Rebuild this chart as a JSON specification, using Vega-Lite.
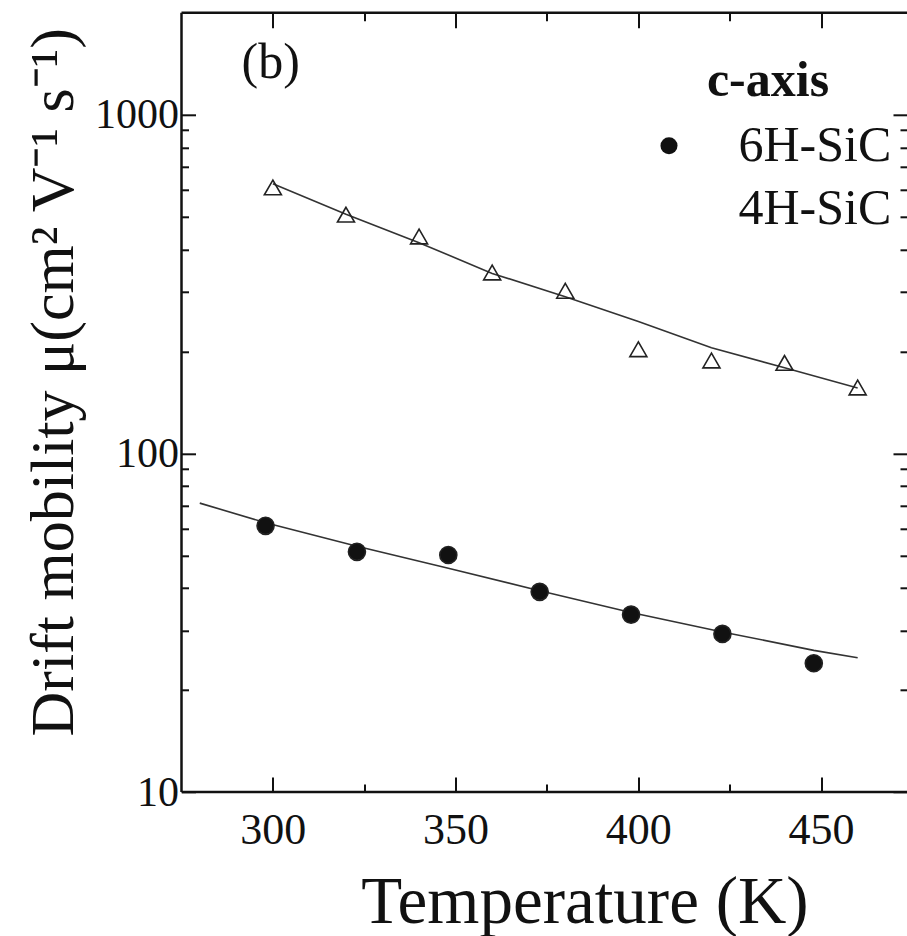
{
  "$schema": "https://vega.github.io/schema/vega-lite/v6.json",
  "width": 725.5,
  "height": 779.2,
  "autosize": {"type": "none"},
  "padding": {"left": 181.5, "top": 12.8, "right": 0, "bottom": 144},
  "background": "white",
  "config": {
    "view": {"stroke": null},
    "font": "Liberation Serif",
    "axis": {"grid": false, "domainColor": "#111", "tickColor": "#111", "labelColor": "#111", "titleColor": "#111", "tickWidth": 2, "labelOverlap": false, "labelFlush": false, "labelBound": false}
  },
  "title": {"text": "(b)", "anchor": "start", "orient": "top", "frame": "group", "offset": -116, "dx": 60, "fontSize": 50, "font": "Liberation Serif", "fontWeight": "normal", "color": "#111", "baseline": "alphabetic"},
  "datasets": {
    "pts": [
      {"T": 298, "mu": 61.1, "phase": "6H-SiC"},
      {"T": 323, "mu": 51.2, "phase": "6H-SiC"},
      {"T": 348, "mu": 50.1, "phase": "6H-SiC"},
      {"T": 373, "mu": 39.0, "phase": "6H-SiC"},
      {"T": 398, "mu": 33.4, "phase": "6H-SiC"},
      {"T": 423, "mu": 29.3, "phase": "6H-SiC"},
      {"T": 448, "mu": 24.0, "phase": "6H-SiC"},
      {"T": 300, "mu": 610, "phase": "4H-SiC"},
      {"T": 320, "mu": 507, "phase": "4H-SiC"},
      {"T": 340, "mu": 437, "phase": "4H-SiC"},
      {"T": 360, "mu": 342, "phase": "4H-SiC"},
      {"T": 380, "mu": 302, "phase": "4H-SiC"},
      {"T": 400, "mu": 203, "phase": "4H-SiC"},
      {"T": 420, "mu": 188, "phase": "4H-SiC"},
      {"T": 440, "mu": 185, "phase": "4H-SiC"},
      {"T": 460, "mu": 156.5, "phase": "4H-SiC"}
    ],
    "fit": [
      {"T": 280, "mu": 71.3, "series": "6H fit"},
      {"T": 298, "mu": 62.4, "series": "6H fit"},
      {"T": 323, "mu": 53.2, "series": "6H fit"},
      {"T": 348, "mu": 45.8, "series": "6H fit"},
      {"T": 373, "mu": 39.3, "series": "6H fit"},
      {"T": 398, "mu": 33.9, "series": "6H fit"},
      {"T": 423, "mu": 29.7, "series": "6H fit"},
      {"T": 448, "mu": 26.2, "series": "6H fit"},
      {"T": 460, "mu": 24.9, "series": "6H fit"},
      {"T": 300, "mu": 625, "series": "4H fit"},
      {"T": 320, "mu": 508, "series": "4H fit"},
      {"T": 340, "mu": 419, "series": "4H fit"},
      {"T": 360, "mu": 340, "series": "4H fit"},
      {"T": 380, "mu": 290, "series": "4H fit"},
      {"T": 400, "mu": 245, "series": "4H fit"},
      {"T": 420, "mu": 205, "series": "4H fit"},
      {"T": 440, "mu": 179, "series": "4H fit"},
      {"T": 460, "mu": 156, "series": "4H fit"}
    ]
  },
  "resolve": {"axis": {"x": "independent", "y": "independent"}},
  "layer": [
    {
      "data": {"values": [{}]},
      "mark": {"type": "rule", "color": "#111", "strokeWidth": 2.5},
      "encoding": {
        "x": {"datum": 275, "type": "quantitative", "axis": null},
        "x2": {"datum": 473.5},
        "y": {"datum": 10, "type": "quantitative", "axis": null}
      }
    },
    {
      "data": {"values": [{}]},
      "mark": {"type": "rule", "color": "#111", "strokeWidth": 2.5},
      "encoding": {
        "x": {"datum": 275, "type": "quantitative", "axis": null},
        "x2": {"datum": 473.5},
        "y": {"datum": 2000, "type": "quantitative", "axis": null}
      }
    },
    {
      "data": {"values": [{}]},
      "mark": {"type": "rule", "color": "#111", "strokeWidth": 2.5},
      "encoding": {
        "x": {"datum": 275, "type": "quantitative", "axis": null},
        "y": {"datum": 10, "type": "quantitative", "axis": null},
        "y2": {"datum": 2000}
      }
    },
    {
      "data": {"name": "fit"},
      "mark": {"type": "line", "color": "#333", "strokeWidth": 1.6},
      "encoding": {
        "x": {"field": "T", "type": "quantitative",
          "scale": {"domain": [275, 473.5], "nice": false, "zero": false},
          "axis": {"orient": "bottom", "domain": false, "values": [300, 325, 350, 375, 400, 425, 450],
            "tickSize": {"condition": {"test": "datum.value % 50 === 0", "value": -15}, "value": -8},
            "labelExpr": "datum.value % 50 === 0 ? datum.label : ''",
            "labelFontSize": 44, "labelPadding": 31, "labelFont": "Liberation Serif",
            "title": "Temperature (K)", "titleFontSize": 67, "titleFontWeight": "normal", "titleFont": "Liberation Serif",
            "titleX": 403, "titleY": 130, "titleBaseline": "alphabetic", "titleAlign": "center", "titleAnchor": null}
        },
        "y": {"field": "mu", "type": "quantitative",
          "scale": {"type": "log", "domain": [10, 2000], "nice": false},
          "axis": {"orient": "left", "domain": false, "values": [10, 20, 30, 40, 50, 60, 70, 80, 90, 100, 200, 300, 400, 500, 600, 700, 800, 900, 1000],
            "tickSize": {"condition": {"test": "datum.value === 10 || datum.value === 100 || datum.value === 1000", "value": -14}, "value": -7},
            "labelExpr": "datum.value === 10 || datum.value === 100 || datum.value === 1000 ? format(datum.value, 'd') : ''",
            "labelFontSize": 42, "labelPadding": 17, "labelFont": "Liberation Serif",
            "title": "Drift mobility  μ(cm² V⁻¹ s⁻¹)", "titleFontSize": 62, "titleFontWeight": "normal", "titleFont": "Liberation Serif",
            "titleX": -109.5, "titleY": 369, "titleBaseline": "alphabetic", "titleAlign": "center", "titleAngle": -90}
        },
        "detail": {"field": "series"}
      }
    },
    {
      "data": {"name": "pts"},
      "mark": {"type": "point", "stroke": "#222", "strokeWidth": 1.6, "size": 290, "opacity": 1},
      "encoding": {
        "x": {"field": "T", "type": "quantitative",
          "axis": {"orient": "top", "domain": false, "values": [300, 325, 350, 375, 400, 425, 450], "labels": false, "title": null,
            "tickSize": {"condition": {"test": "datum.value % 50 === 0", "value": -15}, "value": -8}}
        },
        "y": {"field": "mu", "type": "quantitative",
          "axis": {"orient": "right", "domain": false, "labels": false, "title": null,
            "values": [10, 20, 30, 40, 50, 60, 70, 80, 90, 100, 200, 300, 400, 500, 600, 700, 800, 900, 1000],
            "tickSize": {"condition": {"test": "datum.value === 10 || datum.value === 100 || datum.value === 1000", "value": -14}, "value": -7}}
        },
        "shape": {"field": "phase", "type": "nominal",
          "scale": {"domain": ["6H-SiC", "4H-SiC"], "range": ["circle", "triangle-up"]},
          "legend": {"title": "c-axis", "orient": "none", "legendX": 462.5, "legendY": 43, "padding": 0,
            "titleFont": "Liberation Serif", "titleFontSize": 50, "titleFontWeight": "bold", "titleColor": "#111", "titleAnchor": "middle", "titlePadding": 15,
            "labelFont": "Liberation Serif", "labelFontSize": 50, "labelColor": "#111", "labelOffset": 44.5, "rowPadding": 13,
            "symbolSize": 290, "symbolStrokeColor": "#222", "symbolStrokeWidth": 1.6}
        },
        "fill": {"field": "phase", "type": "nominal",
          "scale": {"domain": ["6H-SiC", "4H-SiC"], "range": ["#111111", "transparent"]},
          "legend": {"title": "c-axis", "orient": "none", "legendX": 462.5, "legendY": 43, "padding": 0,
            "titleFont": "Liberation Serif", "titleFontSize": 50, "titleFontWeight": "bold", "titleColor": "#111", "titleAnchor": "middle", "titlePadding": 15,
            "labelFont": "Liberation Serif", "labelFontSize": 50, "labelColor": "#111", "labelOffset": 44.5, "rowPadding": 13,
            "symbolSize": 290, "symbolStrokeColor": "#222", "symbolStrokeWidth": 1.6}
        }
      }
    }
  ]
}
